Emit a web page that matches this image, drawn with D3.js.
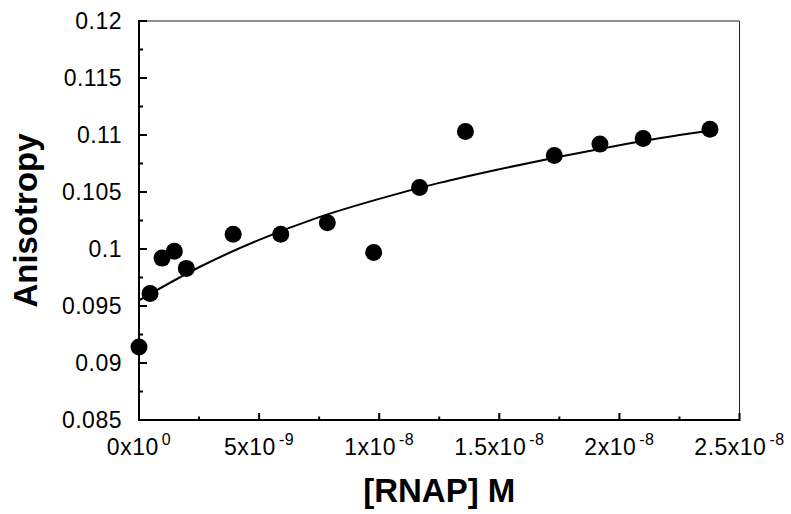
<!DOCTYPE html>
<html lang="en">
<head>
<meta charset="UTF-8">
<title>Anisotropy vs RNAP</title>
<script src="https://d3js.org/d3.v7.min.js"></script>
<style>
  body { margin: 0; background: #fff; }
  svg { display: block; font-family: "Liberation Sans", Arial, Helvetica, sans-serif; }
</style>
</head>
<body>
<div id="chart"></div>
<script>
// measured points: [RNAP] (M) and anisotropy
var rnap = [0, 0.46e-9, 0.96e-9, 1.47e-9, 1.97e-9, 3.92e-9, 5.90e-9, 7.84e-9, 9.77e-9,
            11.68e-9, 13.59e-9, 17.29e-9, 19.19e-9, 20.99e-9, 23.77e-9];
var aniso = [0.0914, 0.0961, 0.0992, 0.0998, 0.0983, 0.1013, 0.1013, 0.1023, 0.0997,
             0.1054, 0.1103, 0.1082, 0.1092, 0.1097, 0.1105];

// fitted curve
var fitX = [0, 2.5e-9, 5e-9, 7.5e-9, 10e-9, 12.5e-9, 15e-9, 17.5e-9, 20e-9, 22.5e-9, 23.8e-9];
var fitY = [0.0955, 0.0984, 0.1008, 0.1028, 0.1044, 0.1058, 0.1070, 0.1081, 0.1091, 0.1100, 0.1104];

// axis ticks
var xTicks = [0, 5e-9, 1e-8, 1.5e-8, 2e-8, 2.5e-8];
var xTickMant = ["0", "5", "1", "1.5", "2", "2.5"];
var xTickExp = ["0", "-9", "-8", "-8", "-8", "-8"];
var xMinor = [2.5e-9, 7.5e-9, 1.25e-8, 1.75e-8, 2.25e-8];
var yTicks = [0.085, 0.09, 0.095, 0.1, 0.105, 0.11, 0.115, 0.12];
var yTickLabels = ["0.085", "0.09", "0.095", "0.1", "0.105", "0.11", "0.115", "0.12"];
var yMinor = [0.0875, 0.0925, 0.0975, 0.1025, 0.1075, 0.1125, 0.1175];

var w = 791, h = 514;
var pLeft = 139, pRight = 739.5, pTop = 21, pBottom = 420;

var svg = d3.select("#chart").append("svg")
    .attr("width", w)
    .attr("height", h);

var xScale = d3.scaleLinear().domain([0, 2.5e-8]).range([pLeft, pRight]);
var yScale = d3.scaleLinear().domain([0.085, 0.12]).range([pBottom, pTop]);

// frame: thin top/right, heavy left/bottom
svg.append("line")
    .attr("x1", pLeft).attr("x2", pRight).attr("y1", pTop).attr("y2", pTop)
    .attr("stroke", "#222").attr("stroke-width", 1);
svg.append("line")
    .attr("x1", pRight).attr("x2", pRight).attr("y1", pTop).attr("y2", pBottom)
    .attr("stroke", "#222").attr("stroke-width", 1);

// y ticks (inward)
svg.selectAll(".ymaj").data(yTicks).enter().append("line")
    .attr("x1", pLeft - 1).attr("x2", pLeft + 8)
    .attr("y1", d => yScale(d)).attr("y2", d => yScale(d))
    .attr("stroke", "#000").attr("stroke-width", 2);
svg.selectAll(".ymin").data(yMinor).enter().append("line")
    .attr("x1", pLeft - 1).attr("x2", pLeft + 4)
    .attr("y1", d => yScale(d)).attr("y2", d => yScale(d))
    .attr("stroke", "#000").attr("stroke-width", 2);

svg.selectAll(".ylab").data(yTicks).enter().append("text")
    .attr("x", 122)
    .attr("y", d => yScale(d) + 8)
    .attr("text-anchor", "end")
    .attr("font-size", "23px")
    .attr("letter-spacing", "0.5px")
    .attr("fill", "#000")
    .text((d, i) => yTickLabels[i]);

// x ticks (inward)
svg.selectAll(".xmaj").data(xTicks).enter().append("line")
    .attr("x1", d => xScale(d)).attr("x2", d => xScale(d))
    .attr("y1", pBottom + 1).attr("y2", pBottom - 7)
    .attr("stroke", "#000").attr("stroke-width", 2);
svg.selectAll(".xmin").data(xMinor).enter().append("line")
    .attr("x1", d => xScale(d)).attr("x2", d => xScale(d))
    .attr("y1", pBottom + 1).attr("y2", pBottom - 3.5)
    .attr("stroke", "#000").attr("stroke-width", 2);

var xl = svg.selectAll(".xlab").data(xTicks).enter().append("text")
    .attr("x", d => xScale(d))
    .attr("y", 455)
    .attr("text-anchor", "middle")
    .attr("font-size", "23px")
    .attr("letter-spacing", "0.5px")
    .attr("fill", "#000");
xl.append("tspan").text((d, i) => xTickMant[i] + "x10");
xl.append("tspan")
    .attr("dx", 3)
    .attr("dy", -10)
    .attr("font-size", "16px")
    .text((d, i) => xTickExp[i]);

// heavy axes
svg.append("line")
    .attr("x1", pLeft).attr("x2", pLeft).attr("y1", pTop - 1).attr("y2", pBottom + 1)
    .attr("stroke", "#000").attr("stroke-width", 2);
svg.append("line")
    .attr("x1", pLeft - 1).attr("x2", pRight).attr("y1", pBottom).attr("y2", pBottom)
    .attr("stroke", "#000").attr("stroke-width", 2);

// fit curve
var fitData = fitX.map((x, i) => [x, fitY[i]]);
svg.append("path")
    .datum(fitData)
    .attr("fill", "none")
    .attr("stroke", "#000")
    .attr("stroke-width", 2)
    .attr("d", d3.line()
        .x(d => xScale(d[0]))
        .y(d => yScale(d[1]))
        .curve(d3.curveMonotoneX));

// points
svg.selectAll("circle")
    .data(rnap)
    .enter()
    .append("circle")
    .attr("cx", d => xScale(d))
    .attr("cy", (d, i) => yScale(aniso[i]))
    .attr("r", 8.5)
    .attr("fill", "#000");

// axis titles
svg.append("text")
    .attr("transform", "translate(37," + ((pTop + pBottom) / 2) + ") rotate(-90)")
    .attr("text-anchor", "middle")
    .attr("font-size", "33px")
    .attr("font-weight", "bold")
    .attr("fill", "#000")
    .text("Anisotropy");

svg.append("text")
    .attr("x", (pLeft + pRight) / 2)
    .attr("y", 502)
    .attr("text-anchor", "middle")
    .attr("font-size", "33px")
    .attr("font-weight", "bold")
    .attr("fill", "#000")
    .text("[RNAP] M");
</script>
</body>
</html>
